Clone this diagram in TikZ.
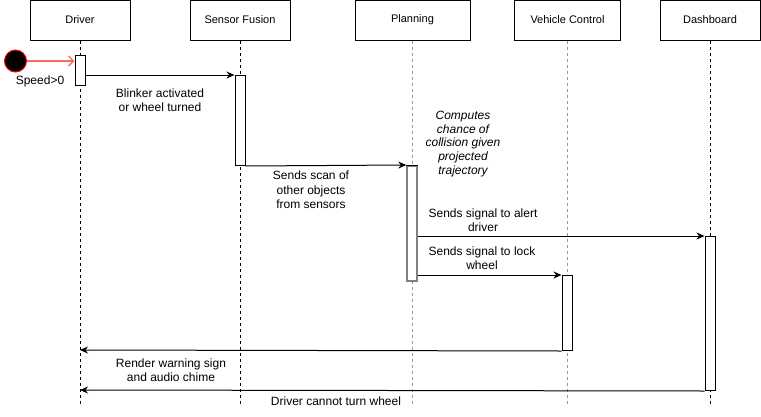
\documentclass[tikz,border=0pt]{standalone}
\usepackage{fontspec}
\setmainfont{Liberation Sans}
\usetikzlibrary{arrows.meta}
\definecolor{lifegray}{HTML}{999999}
\definecolor{bargray}{HTML}{808080}
\definecolor{startred}{HTML}{FF6666}
\begin{document}
\begin{tikzpicture}[x=1pt,y=-1pt,font=\fontsize{11}{14}\selectfont]
\tikzset{
 actor/.style={draw, line width=1pt, minimum height=40pt, inner sep=0pt},
 life/.style={line width=1pt, dash pattern=on 3pt off 3pt},
 glife/.style={life, draw=lifegray},
 bar/.style={draw, fill=white, line width=1pt, minimum width=10pt, inner sep=0pt, anchor=north},
 msg/.style={line width=1pt, -{Stealth[length=8pt,width=7pt]}},
 redmsg/.style={line width=1.4pt, draw=startred, -{Straight Barb[length=5pt,width=10pt]}},
 lbl/.style={align=center, inner sep=0pt, font=\fontsize{12}{14.5}\selectfont},
}
\useasboundingbox (0,0) rectangle (761,416);
% actors
\node[actor, minimum width=100pt] (drv) at (80,20) {Driver};
\node[actor, minimum width=100pt] (sf) at (240,20) {Sensor Fusion};
\node[actor, minimum width=115pt] (pl) at (412.5,20) {Planning};
\node[actor, minimum width=106pt] (vc) at (567.5,20) {Vehicle Control};
\node[actor, minimum width=100pt] (db) at (710,20) {Dashboard};
% lifelines
\coordinate (drvE) at (80,406);
\coordinate (sfE) at (240,406);
\coordinate (plE) at (412.5,406);
\coordinate (vcE) at (567.5,406);
\coordinate (dbE) at (710,406);
\draw[life] (drv.south) -- (drvE);
\draw[life] (sf.south) -- (sfE);
\draw[glife] (pl.south) -- (plE);
\draw[glife] (vc.south) -- (vcE);
\draw[life] (db.south) -- (dbE);
% activation bars
\node[bar, minimum height=30pt] (b1) at (80,55) {};
\node[bar, minimum height=90pt] (b2) at (240,75) {};
\node[bar, minimum height=115pt, draw=bargray, line width=1.5pt] (b3) at (412,165) {};
\draw[line width=1pt] (b3.north west) -- (b3.north east);
\node[bar, minimum height=75pt] (b4) at (567,275) {};
\node[bar, minimum height=154pt] (b5) at (710,236) {};
% start
\node[circle, draw=red, fill=black, line width=1pt, minimum size=22pt, inner sep=0pt] (st) at (15.5,61) {};
\draw[redmsg] (st) -- (b1.west |- st);
% messages
\coordinate (d1) at (80,350);
\coordinate (d2) at (80,390);
\draw[msg] (b1.east |- b2.north) -- (b2.north west);
\draw[msg] (b2.south east) -- (b3.north west);
\draw[msg] (b3.east |- b5.north) -- (b5.north west);
\draw[msg] (b3.east |- b4.north) -- (b4.north west);
\draw[msg] (b4.south west) -- (d1);
\draw[msg] (b5.south west) -- (d2);
% labels
\node[lbl] (l0) at (40,81) {Speed>0};
\node[lbl] (l1) at (160,100) {Blinker activated\\or wheel turned};
\node[lbl] (l2) at (311,190) {Sends scan of\\other objects\\from sensors};
\node[lbl, font=\fontsize{12}{13.75}\selectfont\itshape] (l3) at (463,144) {Computes\\chance of\\collision given\\projected\\trajectory};
\node[lbl] (l4) at (483,220) {Sends signal to alert\\driver};
\node[lbl] (l5) at (482,258) {Sends signal to lock\\wheel};
\node[lbl] (l6) at (171,370) {Render warning sign\\and audio chime};
\node[lbl] (l7) at (336,401) {Driver cannot turn wheel};
\end{tikzpicture}
\end{document}
